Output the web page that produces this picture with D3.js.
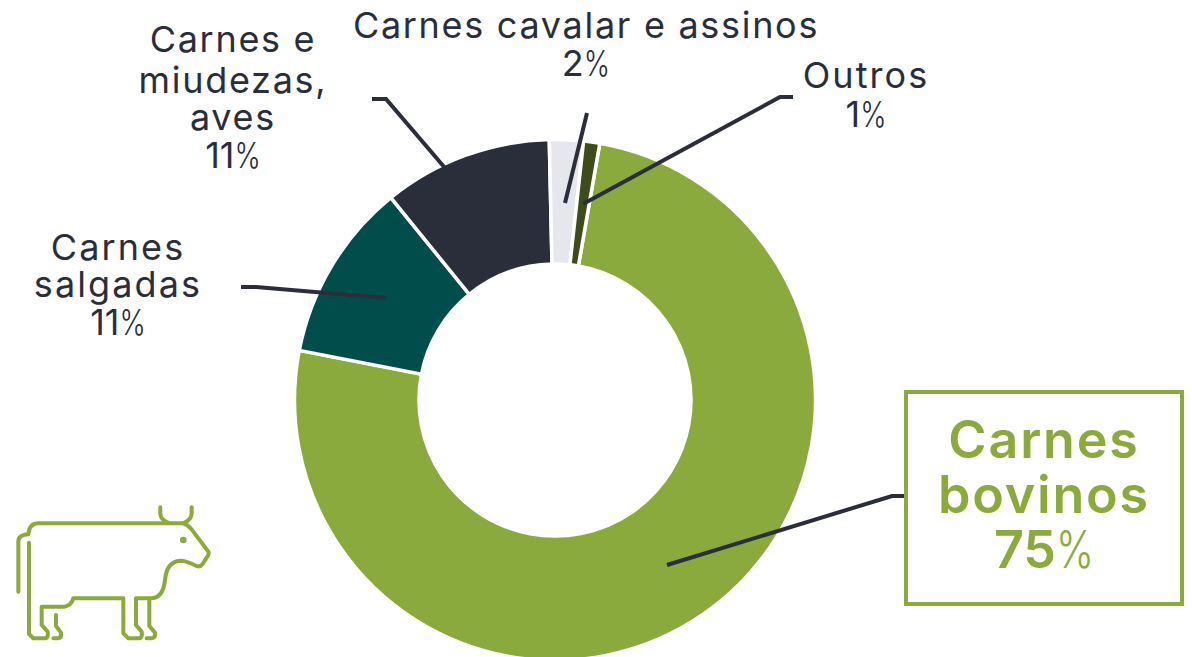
<!DOCTYPE html>
<html><head><meta charset="utf-8">
<script src="https://cdn.jsdelivr.net/npm/d3@7"></script>
<style>html,body{margin:0;padding:0;background:#fff}svg{display:block}text{font-family:Inter,"Noto Sans",sans-serif}</style>
</head><body><svg id="c" width="1192" height="657"></svg>
<script>
const categories = ["Carnes bovinos","Carnes salgadas","Carnes e miudezas, aves","Carnes cavalar e assinos","Outros"];
const values = [75.3,11.1,10.5,2.1,1.0];
const colors = ["#8baa3e","#014d4c","#2a2e3a","#e6e7ec","#3d4d1a"];

const svg = d3.select("#c");
const cx=555, cy=400, rO=260.5, rI=136;
const start = 9.9*Math.PI/180;
const pie = d3.pie().sort(null).value(d=>d).startAngle(start).endAngle(start+2*Math.PI);
const arc = d3.arc().innerRadius(rI).outerRadius(rO);
svg.append("g").attr("transform",`translate(${cx},${cy})`).selectAll("path").data(pie(values)).join("path")
  .attr("d",arc).attr("fill",(d,i)=>colors[i]).attr("stroke","#fff").attr("stroke-width",3.5);

const leaders = [
  [[905,496],[892,496],[667,565]],
  [[241,287],[256,287],[386,298]],
  [[372,99],[386,99],[445,168]],
  [[587,113],[565,203]],
  [[793,97],[780,97],[583,204]]
];
const line = d3.line();
svg.append("g").selectAll("path").data(leaders).join("path").attr("d",line)
  .attr("fill","none").attr("stroke","#2a2e3a").attr("stroke-width",4);

svg.append("rect").attr("x",906).attr("y",392).attr("width",276).attr("height",212)
  .attr("fill","none").attr("stroke","#8baa3e").attr("stroke-width",4);

const labels = [
 {x:1044,lines:[["Carnes",458],["bovinos",513],["75",568]],size:52,fill:"#8baa3e",w:600,ls:1.8},
 {x:118,lines:[["Carnes",260],["salgadas",297],["11",335]],size:36,fill:"#2a2e3a",w:400,ls:2.1},
 {x:233,lines:[["Carnes e",52],["miudezas,",93],["aves",130],["11",168]],size:36,fill:"#2a2e3a",w:400,ls:1.7},
 {x:586,lines:[["Carnes cavalar e assinos",38],["2",76]],size:36,fill:"#2a2e3a",w:400,ls:1.7},
 {x:866,lines:[["Outros",88],["1",127]],size:36,fill:"#2a2e3a",w:400,ls:2.1}
];
labels.forEach(l=>l.lines.forEach(([t,y])=>{
  const isPct=/^\d+$/.test(t);
  const g=svg.append("g");
  const n=g.append("text").attr("y",y)
    .attr("font-size",l.size).attr("font-weight",l.w).attr("fill",l.fill).text(t);
  if(!isPct){ n.attr("x",l.x).attr("text-anchor","middle").attr("letter-spacing",l.ls); return; }
  const p=g.append("text").attr("font-size",l.size).attr("font-weight",300).attr("fill",l.fill).text("%");
  const nw=n.node().getComputedTextLength(), pw=p.node().getComputedTextLength()*0.78;
  const x0=l.x-(nw+pw)/2;
  n.attr("x",x0);
  p.attr("transform",`translate(${x0+nw},${y}) scale(0.78,1)`);
}));

const cow=svg.append("g").attr("transform","translate(0,490) scale(0.3333)")
  .attr("fill","none").attr("stroke","#8baa3e").attr("stroke-width",12).attr("stroke-linecap","round").attr("stroke-linejoin","round");
cow.append("path").attr("d","M87,158V432L100,445H138Q146,440 143,425L125,405V350H195Q215,345 220,325H370V430L385,445H420Q428,440 425,425L408,405V325H455Q490,322 495,270Q500,215 540,212Q560,212 590,228Q600,232 608,222L622,200Q628,192 625,185L575,118Q565,105 550,100H115Q88,100 85,133Q55,135 55,155V305");
cow.append("path").attr("d","M481,52V70Q481,90 505,98M575,52V70Q575,90 550,100");
cow.append("path").attr("d","M168,375V408L183,428Q186,442 175,445H160");
cow.append("path").attr("d","M448,330V408L465,428Q468,442 455,445H440");
cow.append("circle").attr("cx",550).attr("cy",150).attr("r",4).attr("fill","#8baa3e");
</script></body></html>
